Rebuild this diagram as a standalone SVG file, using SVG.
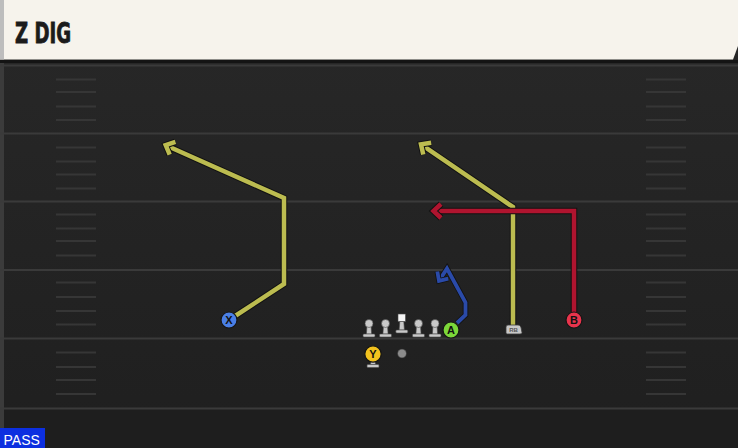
<svg xmlns="http://www.w3.org/2000/svg" width="738" height="448" viewBox="0 0 738 448">
<defs>
<linearGradient id="fieldGrad" x1="0" y1="0" x2="0" y2="1">
<stop offset="0" stop-color="#282828"/>
<stop offset="1" stop-color="#1f1f1f"/>
</linearGradient>
<marker id="arrY" markerUnits="userSpaceOnUse" viewBox="-14 -12 20 24" markerWidth="20" markerHeight="24" refX="0" refY="0" orient="auto" overflow="visible">
<path d="M-7.5,-7 L0,0 L-7.5,7" fill="none" stroke="#121212" stroke-width="6.5"/>
<path d="M-7.5,-7 L0,0 L-7.5,7" fill="none" stroke="#bcbc50" stroke-width="4.5"/>
</marker>
<marker id="arrR" markerUnits="userSpaceOnUse" viewBox="-14 -12 20 24" markerWidth="20" markerHeight="24" refX="0" refY="0" orient="auto" overflow="visible">
<path d="M-7.5,-7 L0,0 L-7.5,7" fill="none" stroke="#121212" stroke-width="6.5"/>
<path d="M-7.5,-7 L0,0 L-7.5,7" fill="none" stroke="#b0142f" stroke-width="4.5"/>
</marker>
<marker id="arrB" markerUnits="userSpaceOnUse" viewBox="-14 -12 20 24" markerWidth="20" markerHeight="24" refX="0" refY="0" orient="auto" overflow="visible">
<path d="M-7,-6.5 L0,0 L-7,6.5" fill="none" stroke="#121212" stroke-width="5.5"/>
<path d="M-7,-6.5 L0,0 L-7,6.5" fill="none" stroke="#2a4aa8" stroke-width="3.8"/>
</marker>
<g id="pawn">
<path d="M-2,2 L-2.6,10.5 L2.6,10.5 L2,2 Z" />
<rect x="-6" y="10.5" width="12" height="3" rx="1"/>
<circle cx="0" cy="0" r="4"/>
</g>
</defs>
<style>
.yard{stroke:#3a3a3a;stroke-width:2}
.hash{stroke:#363636;stroke-width:2}
.under{fill:none;stroke:#121212;stroke-linejoin:miter}
.route{fill:none;stroke-linejoin:miter}
.lineman{fill:#c9c9c9;stroke:#4a4a4a;stroke-width:0.6}
.lbl{font-family:"Liberation Sans",Arial,sans-serif;font-weight:bold;font-size:11px;fill:#111;text-anchor:middle}
.circ{stroke:#151515;stroke-width:1.2}
</style>
<!-- field -->
<rect x="0" y="0" width="738" height="448" fill="url(#fieldGrad)"/>
<rect x="0" y="408" width="738" height="40" fill="#1e1e1e"/>
<rect x="0" y="60" width="4" height="388" fill="#3b3b3b"/>
<rect x="0" y="60" width="738" height="3" fill="#141414"/>
<g id="yardlines">
<line class="yard" x1="0" y1="65.5" x2="738" y2="65.5"/>
<line class="yard" x1="0" y1="133.5" x2="738" y2="133.5"/>
<line class="yard" x1="0" y1="201.5" x2="738" y2="201.5"/>
<line class="yard" x1="0" y1="270" x2="738" y2="270"/>
<line class="yard" x1="0" y1="338.5" x2="738" y2="338.5"/>
<line class="yard" x1="0" y1="408.5" x2="738" y2="408.5"/>
</g>
<g id="hashes">
<path class="hash" d="M56,79.5H96M56,92H96M56,106.5H96M56,120H96M56,147.5H96M56,161.5H96M56,174.5H96M56,188.5H96M56,214.5H96M56,228.5H96M56,241H96M56,255.5H96M56,282.5H96M56,297H96M56,311H96M56,324.5H96M56,352.5H96M56,367H96M56,380H96M56,394H96"/>
<path class="hash" d="M646,79.5H686M646,92H686M646,106.5H686M646,120H686M646,147.5H686M646,161.5H686M646,174.5H686M646,188.5H686M646,214.5H686M646,228.5H686M646,241H686M646,255.5H686M646,282.5H686M646,297H686M646,311H686M646,324.5H686M646,352.5H686M646,367H686M646,380H686M646,394H686"/>
</g>
<!-- header -->
<g id="header">
<polygon points="0,0 738,0 738,46 733,59.5 0,59.5" fill="#f6f3ec"/>
<rect x="0" y="0" width="4" height="59.5" fill="#bdbdbd"/>
<text x="15" y="42.5" font-family="'DejaVu Sans Condensed','Liberation Sans Narrow',sans-serif" font-weight="bold" font-size="28" textLength="56" lengthAdjust="spacingAndGlyphs" fill="#1b1b1b" stroke="#1b1b1b" stroke-width="0.8">Z DIG</text>
</g>
<!-- connectors / routes -->
<g id="connectors">
<path class="under" stroke-width="6.5" d="M229,320 L284,284 L284,198 L165.7,145.2"/>
<path class="route" stroke="#bcbc50" stroke-width="4.5" d="M229,320 L284,284 L284,198 L165.7,145.2" marker-end="url(#arrY)"/>
<path class="under" stroke-width="6.5" d="M513,325 L513,207 L421,144.4"/>
<path class="route" stroke="#bcbc50" stroke-width="4.5" d="M513,325 L513,207 L421,144.4" marker-end="url(#arrY)"/>
<path class="under" stroke-width="6.5" d="M574,318 L574,211 L433.5,211"/>
<path class="route" stroke="#b0142f" stroke-width="4.5" d="M574,318 L574,211 L433.5,211" marker-end="url(#arrR)"/>
<path class="under" stroke-width="5.5" d="M457,323 L465.5,315 L465.5,302.5 L447,268.5 L439,280.9"/>
<path class="route" stroke="#2a4aa8" stroke-width="3.8" d="M457,323 L465.5,315 L465.5,302.5 L447,268.5 L439,280.9" marker-end="url(#arrB)"/>
</g>
<!-- offensive line -->
<g id="lineman-1"><use href="#pawn" class="lineman" x="369" y="323.5"/></g>
<g id="lineman-2"><use href="#pawn" class="lineman" x="385.5" y="323.5"/></g>
<g id="center">
<rect x="398" y="314" width="7.5" height="7.5" fill="#f4f4f4" stroke="#4a4a4a" stroke-width="0.6"/>
<path class="lineman" d="M399.8,321.5 L399.2,330 L404.4,330 L403.8,321.5 Z"/>
<rect class="lineman" x="395.8" y="330" width="12" height="3" rx="1"/>
</g>
<g id="lineman-4"><use href="#pawn" class="lineman" x="418.5" y="323.5"/></g>
<g id="lineman-5"><use href="#pawn" class="lineman" x="435" y="323.5"/></g>
<!-- QB dot -->
<g id="qb"><circle cx="402" cy="353.5" r="4.5" fill="#8c8c8c" stroke="#2a2a2a" stroke-width="0.6"/></g>
<!-- skill players -->
<g id="player-X">
<circle class="circ" cx="229" cy="320" r="8" fill="#4a7fe6"/>
<text class="lbl" x="229" y="324">X</text>
</g>
<g id="player-A">
<circle class="circ" cx="451" cy="330" r="8" fill="#7cd83a"/>
<text class="lbl" x="451" y="334">A</text>
</g>
<g id="player-B">
<circle class="circ" cx="574" cy="320" r="8" fill="#e8344c"/>
<text class="lbl" x="574" y="324">B</text>
</g>
<g id="player-Y">
<path class="lineman" d="M371,361 L370.5,364.5 L375.5,364.5 L375,361 Z"/>
<rect class="lineman" x="367" y="364.5" width="12" height="3" rx="1"/>
<circle class="circ" cx="373" cy="354" r="8.2" fill="#f2c21e"/>
<text class="lbl" x="373" y="358">Y</text>
</g>
<g id="player-RB">
<path d="M506,327 Q506,325 508,325 L518,325 Q521,325 521.5,330 L522,332.5 Q522,334 520,334 L507.5,334 Q506,334 506,332.5 Z" fill="#c8c8c8" stroke="#3a3a3a" stroke-width="0.8"/>
<text x="513.5" y="332" font-family="'Liberation Sans',Arial,sans-serif" font-size="6" font-weight="bold" fill="#555" text-anchor="middle">RB</text>
</g>
<!-- play type badge -->
<g id="badge-pass">
<rect x="0" y="428" width="45" height="20" fill="#0c2fe0"/>
<text x="3.5" y="445" font-family="'Liberation Sans',Arial,sans-serif" font-size="14" fill="#ffffff">PASS</text>
</g>
</svg>
